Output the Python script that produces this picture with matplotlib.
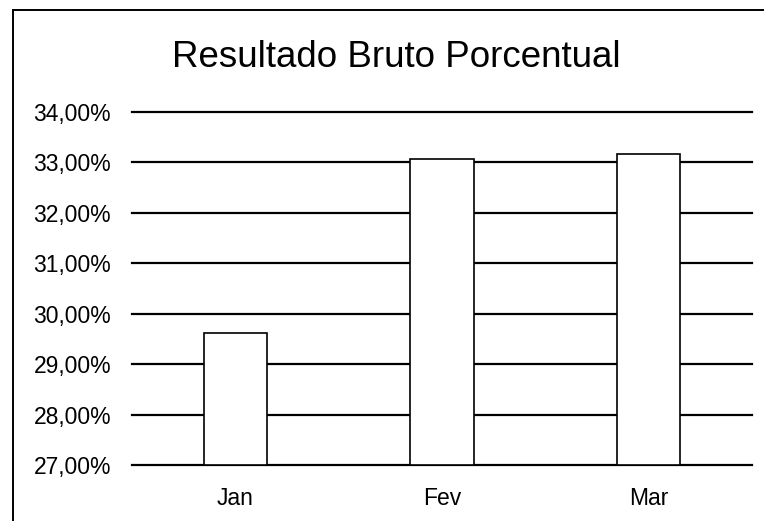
import matplotlib
matplotlib.use('Agg')
import matplotlib.pyplot as plt
from matplotlib.lines import Line2D
from matplotlib.ticker import FuncFormatter

# Gross result as a percentage, by month
months = ['Jan', 'Fev', 'Mar']
resultado = [29.62, 33.07, 33.17]
y_ticks = [27, 28, 29, 30, 31, 32, 33, 34]

plt.rcParams['font.family'] = ['Liberation Sans', 'DejaVu Sans']

fig = plt.figure(figsize=(7.64, 5.21), dpi=100)
ax = fig.add_axes([0.1728, 0.1075, 0.8115, 0.6775])

# horizontal gridlines behind white bars
for t in y_ticks:
    ax.axhline(t, color='black', linewidth=1.6, zorder=1, clip_on=False)

x = range(len(months))
ax.bar(x, [v - 27 for v in resultado], bottom=27, width=0.305,
       color='white', edgecolor='black', linewidth=1.2, zorder=2, clip_on=False)

ax.set_xlim(-0.5, 2.5)
ax.set_ylim(27, 34)
ax.set_yticks(y_ticks)
ax.yaxis.set_major_formatter(FuncFormatter(lambda v, p: f'{v:.2f}%'.replace('.', ',')))
ax.set_xticks(list(x))
ax.set_xticklabels(months)
ax.tick_params(axis='y', length=0, pad=15, labelsize=16.5)
ax.tick_params(axis='x', length=0, pad=16, labelsize=16.5)
for s in ax.spines.values():
    s.set_visible(False)

fig.text(0.519, 0.89, 'Resultado Bruto Porcentual', ha='center', va='center', fontsize=26.5)

# chart border (left and top edges)
fx = 13 / 764
fy = 1 - 10 / 521
fig.add_artist(Line2D([fx, fx], [0, fy], color='black', linewidth=1.4, transform=fig.transFigure))
fig.add_artist(Line2D([fx, 1], [fy, fy], color='black', linewidth=1.4, transform=fig.transFigure))

fig.savefig('out.png', dpi=100)
